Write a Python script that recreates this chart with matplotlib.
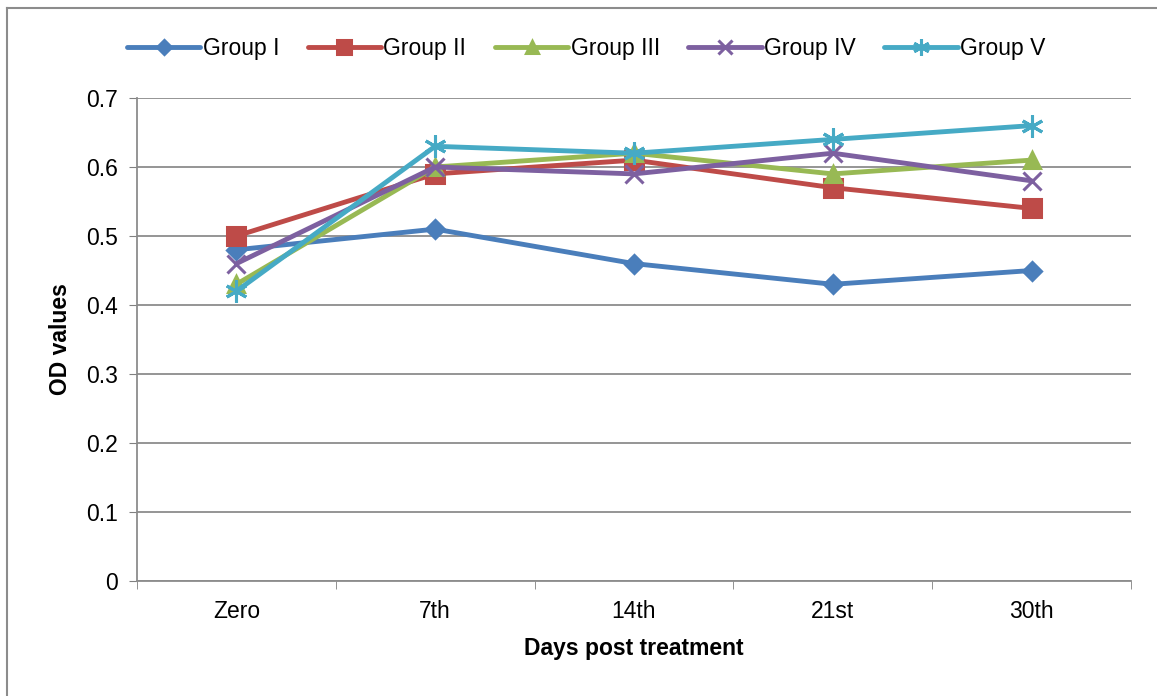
import numpy as np
import matplotlib.pyplot as plt
from matplotlib.lines import Line2D

# OD readings per group on each sampling day
days = ['Zero', '7th', '14th', '21st', '30th']
group_1 = [0.48, 0.51, 0.46, 0.43, 0.45]
group_2 = [0.50, 0.59, 0.61, 0.57, 0.54]
group_3 = [0.43, 0.60, 0.62, 0.59, 0.61]
group_4 = [0.46, 0.60, 0.59, 0.62, 0.58]
group_5 = [0.42, 0.63, 0.62, 0.64, 0.66]
labels = ['Group I', 'Group II', 'Group III', 'Group IV', 'Group V']

series = [group_1, group_2, group_3, group_4, group_5]
colors = ['#4a7ebb', '#be4b48', '#98b954', '#7d60a0', '#46aac5']
markers = ['D', 's', '^', 'x', (6, 2, 0)]
msizes = [9, 13, 11, 13, 16]

plt.rcParams['font.family'] = ['Liberation Sans', 'DejaVu Sans']

fig = plt.figure(figsize=(11.57, 6.96), dpi=100)
ax = fig.add_axes([0.1184, 0.1652, 0.8591, 0.694])

x = np.arange(len(days))
for vals, c, m, ms, lab in zip(series, colors, markers, msizes, labels):
    ax.plot(x, vals, color=c, lw=3.5, marker=m, ms=ms, mew=2.2,
            mec=c, mfc=c, label=lab, solid_capstyle='round')

ax.set_xlim(-0.5, len(days) - 0.5)
ax.set_ylim(0, 0.7)
ax.set_yticks(np.arange(0, 0.71, 0.1))
ax.set_yticklabels(['0'] + ['%.1f' % v for v in np.arange(0.1, 0.71, 0.1)])
ax.set_xticks(x)
ax.set_xticklabels(days)
ax.set_xticks(np.arange(-0.5, len(days)), minor=True)
ax.tick_params(axis='x', which='major', length=0, pad=14, labelsize=16.5)
ax.tick_params(axis='x', which='minor', length=6, color='#808080')
ax.tick_params(axis='y', length=6, color='#808080', pad=8, labelsize=16.5)

ax.yaxis.grid(True, color='#8c8c8c', lw=1.3)
ax.set_axisbelow(True)
for s in ['top', 'right']:
    ax.spines[s].set_visible(False)
for s in ['left', 'bottom']:
    ax.spines[s].set_color('#8c8c8c')
    ax.spines[s].set_linewidth(1.3)

ax.set_xlabel('Days post treatment', fontsize=16.5, fontweight='bold', labelpad=10)
ax.set_ylabel('OD values', fontsize=16.5, fontweight='bold', labelpad=10)

ax.legend(loc='lower center', bbox_to_anchor=(0.452, 1.035), ncol=5, frameon=False,
          fontsize=16.5, handlelength=3.2, handletextpad=0.1, columnspacing=1.25,
          markerscale=0.75)

# outer chart border (left and top edges)
fig.add_artist(Line2D([0.006, 0.006], [0, 0.989], color='#8c8c8c', lw=1.5))
fig.add_artist(Line2D([0.006, 1.0], [0.989, 0.989], color='#8c8c8c', lw=1.5))

fig.savefig('out.png', dpi=100)
